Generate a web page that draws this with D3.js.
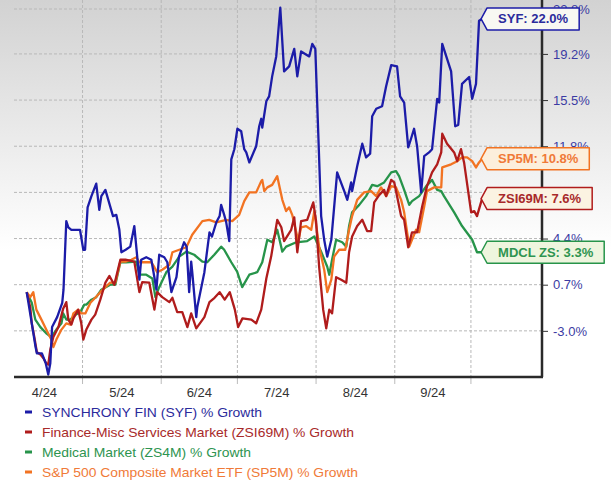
<!DOCTYPE html>
<html><head><meta charset="utf-8">
<script src="https://cdn.jsdelivr.net/npm/d3@7"></script>
<style>html,body{margin:0;padding:0;background:#fff;}svg{display:block;font-family:"Liberation Sans",Arial,sans-serif;}</style>
</head><body>
<svg id="chart" width="611" height="486"></svg>
<script>
// x = days since 1 Apr 2024, y = % growth
const syf = [[8,0.1],[10,-2.4],[11.5,-4.3],[12,-4.8],[14,-4.8],[15.5,-5.6],[16.5,-6.5],[17.3,-5.6],[18,-2.7],[20,-1.9],[22,-0.75],[22.5,0.3],[23.6,5.8],[24.4,5.3],[25.6,5.1],[29,5.1],[30.3,3.5],[31,3.5],[32,6.9],[33.5,7.8],[35.4,8.8],[36.6,6.7],[37.4,7.8],[39,8.3],[42,6.2],[43.3,6.3],[44.5,5.1],[45.3,3.3],[47,3.5],[48.8,3.75],[50.4,5.4],[52.4,1.1],[53.1,2.7],[55.1,2.9],[57.1,2.7],[58.3,1.3],[59.1,0.3],[60.2,3.1],[62.2,2.9],[63.4,2.5],[65,0.1],[67,1.3],[68,2.95],[70,4.1],[71,3.75],[72,0.1],[72.8,2.55],[73.2,1.75],[74.8,-1.9],[75.2,-1.1],[78,1.7],[80,4.9],[81,4.56],[82.7,5.7],[84,6.2],[84.6,7.1],[85.8,6.3],[86.6,5.7],[87.8,4.2],[88.6,10.75],[89.8,11.56],[91,13.2],[92.5,13.0],[93.7,11.56],[94.5,11.3],[95.7,10.5],[98.4,11.8],[99.6,13.4],[100.4,14.0],[100.8,13.3],[102.4,15.4],[103.5,15.8],[104.7,17.4],[106.3,19.0],[107.9,22.9],[109.4,17.8],[111.4,18.2],[113.4,19.6],[114.6,17.4],[116.1,19.4],[119.3,19.0],[120.5,20.0],[121.7,19.6],[124,6.2],[125.2,4.3],[126.4,2.95],[128,4.3],[130.3,9.7],[133.1,8.2],[134.3,7.5],[135.8,8.9],[136.2,8.2],[138.2,10.2],[140.2,12.0],[141.7,10.9],[143.3,11.2],[144.1,14.2],[145.7,14.8],[148,15.0],[149.6,16.6],[151.6,18.3],[153.9,18.2],[155.1,15.8],[156.7,15.3],[158.3,11.7],[159.4,12.4],[160.6,13.2],[161.8,11.8],[163.4,8.1],[164.6,11.0],[166.5,11.3],[167.7,11.56],[169.7,15.6],[170.5,15.3],[171.7,20.0],[175.2,17.8],[176.8,13.4],[178,13.5],[179.5,16.8],[182.3,17.35],[183.5,15.6],[185,16.8],[186.2,21.85],[187.4,22.0]];

const zsi69m = [[8,0.1],[9.4,-1.1],[10,-2.4],[11,-3.5],[12,-4.7],[13.4,-4.9],[14.6,-5.2],[15.7,-5.6],[16.5,-5.7],[17.3,-4.5],[18.5,-3.5],[20.5,-2.7],[22.4,-1.2],[23.6,-0.7],[24.4,-2.1],[25.6,-2.5],[26.4,-2.0],[28.3,-1.3],[29.5,-2.4],[30.3,-3.7],[31.5,-2.9],[33.5,-2.1],[35,-1.7],[37,-0.5],[39,0.86],[40.6,1.4],[42.5,0.7],[44.9,2.7],[46.9,2.7],[50.4,2.55],[52.4,0.1],[53.5,0.9],[56.3,0.86],[58.3,-1.3],[59.4,0.1],[61.4,-0.3],[64.2,-0.7],[65.4,-0.35],[67.3,-1.5],[69.3,-1.5],[71.3,-2.7],[72.8,-1.6],[74.8,-2.8],[78,-1.9],[80,-0.7],[82,-0.35],[84,0.1],[86,-0.5],[88,0.1],[90,-1.3],[91.3,-2.7],[93,-2.0],[96.5,-2.1],[98.4,-2.4],[100.4,-1.3],[102.4,1.2],[104.3,2.95],[106.7,5.9],[108.3,5.3],[109.4,4.2],[112.2,5.1],[113.4,6.1],[114.6,3.3],[116.1,5.8],[118.5,5.9],[120.9,7.3],[122,5.8],[123.2,2.14],[124.8,-1.3],[126,-2.8],[127.2,-1.3],[128.3,-1.6],[129.9,1.3],[131.9,1.1],[133.9,0.86],[135,3.3],[136.2,4.56],[138.2,5.4],[140.2,5.9],[142.1,5.0],[143.7,5.0],[144.9,7.3],[146.9,7.9],[148.8,8.3],[149.6,7.8],[151.6,9.1],[152.8,8.9],[155.5,6.2],[156.7,5.9],[158.3,3.7],[159.8,4.9],[161.8,4.9],[163.8,6.97],[165.7,8.6],[167.7,9.7],[169.7,10.35],[171.3,11.3],[171.7,12.8],[173.6,12.0],[176.4,11.3],[177.6,10.6],[179.1,11.56],[180.3,10.5],[183.1,6.5],[184.3,6.6],[185.4,6.2],[187.4,7.6]];

const zs4m = [[8,0.1],[10,-0.75],[11.4,-2.1],[13.4,-2.7],[15.7,-3.2],[17.7,-3.5],[19.7,-2.9],[21.7,-2.4],[22.4,-1.6],[23.6,-2.1],[25.2,-2.1],[27.2,-1.7],[29.1,-1.5],[30.7,-0.9],[31.5,-0.9],[33.5,-0.5],[35.4,-0.3],[37.4,0.3],[40.9,0.7],[42.9,0.7],[44.9,2.5],[47.2,2.5],[51.2,2.55],[52.4,1.5],[55.1,1.5],[57.5,1.2],[58.7,-0.3],[60.2,0.5],[63,1.7],[65.4,2.14],[68.1,2.95],[70.9,3.35],[74,3.1],[77.2,2.55],[79.1,2.5],[81.9,3.1],[84.6,3.75],[85.8,3.5],[88.6,2.5],[90.9,1.75],[92.9,0.5],[95.7,1.5],[98.8,1.7],[100.8,2.5],[102.8,4.3],[104.7,4.1],[106.7,5.1],[108.7,3.35],[110.2,3.75],[114.2,4.1],[118.5,4.2],[121.3,4.56],[124,3.35],[126.4,2.14],[127.2,1.5],[128.3,2.7],[129.9,4.3],[132.3,4.1],[133.9,3.75],[135,5.4],[136.2,6.5],[139,7.1],[141.7,7.8],[144.1,8.7],[146.1,8.6],[148.8,8.9],[151.6,9.7],[153.5,9.8],[154.7,9.4],[156.7,8.3],[158.7,7.1],[159.8,7.4],[162.6,7.8],[165.4,8.6],[167.7,9.1],[169.7,8.3],[171.3,8.2],[172.4,7.8],[176.4,6.5],[179.5,5.4],[183.5,4.3],[185.4,3.3],[187.4,3.3]];

const sp5m = [[8,0.1],[9.4,-0.3],[10.6,0.1],[11.8,-1.3],[13.8,-2.1],[15.7,-2.9],[17.7,-3.7],[18.5,-4.3],[19.7,-3.7],[21.7,-2.9],[23.6,-2.4],[25.2,-2.5],[26.4,-1.6],[28.3,-1.3],[29.5,-1.6],[31.1,-1.6],[33.1,-0.75],[35,-0.35],[37,0.1],[39,0.5],[40.9,0.86],[42.9,0.86],[44.9,2.55],[46.9,2.55],[49.2,2.7],[51.2,2.9],[52.4,2.5],[57.1,2.5],[58.3,2.1],[59.4,1.7],[61.4,1.9],[64.2,2.3],[65.4,3.3],[68.1,3.5],[70.9,3.7],[73.2,4.7],[77.2,5.8],[79.9,5.9],[82.7,5.7],[86.6,5.9],[89,5.8],[91.7,6.3],[93.7,7.4],[95.7,8.1],[98.4,8.1],[100.4,9.0],[100.8,9.1],[101.6,8.2],[102.8,8.5],[104.7,8.7],[106.7,9.4],[108.7,7.5],[110.2,6.6],[111.4,6.9],[112.6,6.3],[114.2,4.9],[115,4.2],[116.1,5.3],[118.1,5.4],[120.1,5.1],[121.3,6.6],[123.2,3.75],[125.2,1.9],[126.4,0.1],[128,1.1],[129.1,2.95],[131.1,3.5],[133.5,3.5],[135,5.1],[136.2,6.2],[138.2,7.5],[140.9,8.1],[143.7,8.2],[145.7,7.8],[147.6,8.5],[149.6,7.8],[151.6,8.6],[153.5,8.5],[155.5,7.5],[156.7,6.5],[158.7,3.75],[161.4,5.1],[162.6,4.9],[164.6,6.97],[165.7,8.2],[168.5,8.5],[171.3,8.5],[171.7,10.1],[175.2,10.35],[177.6,10.6],[179.5,10.9],[181.5,10.9],[183.5,10.6],[185,10.1],[186.2,10.5],[187.4,10.8]];

const yTicks = [-3.0, 0.7, 4.4, 8.1, 11.8, 15.5, 19.2, 22.8];
const monthStarts = [30, 61, 91, 122, 153, 183];
const monthMids = [15, 45.5, 76, 106.5, 137.5, 168];
const monthLabels = ["4/24", "5/24", "6/24", "7/24", "8/24", "9/24"];
const legendNames = ["SYNCHRONY FIN (SYF) % Growth", "Finance-Misc Services Market (ZSI69M) % Growth", "Medical Market (ZS4M) % Growth", "S&P 500 Composite Market ETF (SP5M) % Growth"];
const endLabels = ["SYF: 22.0%", "ZSI69M: 7.6%", "MDCL ZS: 3.3%", "SP5M: 10.8%"];

const series = [
  {data: syf, color: "#1c1ca8", text: "#2b2b9c", fill: "#f8f8f2", legW: 220},
  {data: zsi69m, color: "#b01c1c", text: "#a82a2a", fill: "#fbf3e2", legW: 312},
  {data: zs4m, color: "#27944a", text: "#2e9450", fill: "#eef5de", legW: 209},
  {data: sp5m, color: "#f27322", text: "#f07a38", fill: "#fcefdc", legW: 316}
];

const svg = d3.select("#chart");
const W = 611, H = 486;
const x = d3.scaleLinear().domain([3, 211]).range([14, 542]);
const y = d3.scaleLinear().domain([-6.7, 22.8]).range([377, 9]);

const defs = svg.append("defs");
const grad = defs.append("linearGradient").attr("id", "bg").attr("x1", 0).attr("x2", 0).attr("y1", 0).attr("y2", 1);
grad.append("stop").attr("offset", "0%").attr("stop-color", "#d2d2d2");
grad.append("stop").attr("offset", "100%").attr("stop-color", "#ffffff");
svg.append("rect").attr("x", 0).attr("y", 0).attr("width", W).attr("height", 250).attr("fill", "url(#bg)");

// horizontal grid
svg.append("g").selectAll("line").data(yTicks).join("line")
  .attr("x1", 14).attr("x2", 542)
  .attr("y1", d => y(d)).attr("y2", d => y(d))
  .attr("stroke", "#b8b8b8").attr("stroke-dasharray", "3,2").attr("stroke-width", 1);
// vertical grid
svg.append("g").selectAll("line").data(monthStarts).join("line")
  .attr("x1", d => x(d)).attr("x2", d => x(d))
  .attr("y1", 0).attr("y2", 377)
  .attr("stroke", "#b8b8b8").attr("stroke-dasharray", "3,2").attr("stroke-width", 1);
// tick marks below x axis
svg.append("g").selectAll("line").data(monthStarts).join("line")
  .attr("x1", d => x(d)).attr("x2", d => x(d))
  .attr("y1", 378).attr("y2", 384)
  .attr("stroke", "#bbbbbb").attr("stroke-width", 1);

// lines
const line = d3.line().x(d => x(d[0])).y(d => y(d[1]));
const order = [2, 3, 1, 0];
order.forEach(i => {
  svg.append("path").datum(series[i].data).attr("d", line)
    .attr("fill", "none").attr("stroke", series[i].color).attr("stroke-width", 2.3)
    .attr("stroke-linejoin", "round");
});

// axes frame
svg.append("line").attr("x1", 14).attr("x2", 543).attr("y1", 377).attr("y2", 377).attr("stroke", "#2a2a2a").attr("stroke-width", 2.5);
const yAxis = d3.axisRight(y).tickValues(yTicks).tickSize(6).tickPadding(5).tickFormat(d => d.toFixed(1) + "%");
const ya = svg.append("g").attr("transform", "translate(542,0)").call(yAxis);
ya.select(".domain").attr("stroke", "#2a2a2a").attr("stroke-width", 2.5).attr("d", "M0,0V377");
ya.selectAll(".tick line").attr("stroke", "#333");
ya.selectAll(".tick text").attr("fill", "#3b3ba3").attr("font-size", 13).attr("font-family", "Liberation Sans, Arial, sans-serif");

// x labels
svg.append("g").selectAll("text").data(monthLabels).join("text")
  .attr("x", (d, i) => x(monthMids[i])).attr("y", 397)
  .attr("text-anchor", "middle").attr("font-size", 13).attr("fill", "#333")
  .text(d => d);

// legend
const leg = svg.append("g");
series.forEach((s, i) => {
  const ly = 412 + i * 20;
  leg.append("rect").attr("x", 25).attr("y", ly - 1.5).attr("width", 7).attr("height", 3).attr("fill", s.color);
  leg.append("text").attr("x", 42).attr("y", ly + 4.5).attr("font-size", 13).attr("fill", s.text)
    .attr("textLength", s.legW).attr("lengthAdjust", "spacingAndGlyphs").text(legendNames[i]);
});

// end labels
series.forEach((s, i) => {
  const last = s.data[s.data.length - 1];
  const tx = x(last[0]) - 1, cy = y(last[1]);
  const g = svg.append("g");
  const t = g.append("text").attr("font-size", 13).attr("font-weight", "bold").attr("fill", s.text).text(endLabels[i]);
  const tw = t.node().getComputedTextLength();
  const bx = tx + 6, bw = tw + 22, hh = 11;
  g.insert("path", "text").attr("d", `M${tx},${cy} L${bx},${cy - hh} H${bx + bw} V${cy + hh} H${bx} Z`)
    .attr("fill", s.fill).attr("stroke", s.color).attr("stroke-width", 1.5).attr("stroke-linejoin", "round");
  t.attr("x", bx + 11).attr("y", cy + 4.5);
});
</script>
</body></html>
